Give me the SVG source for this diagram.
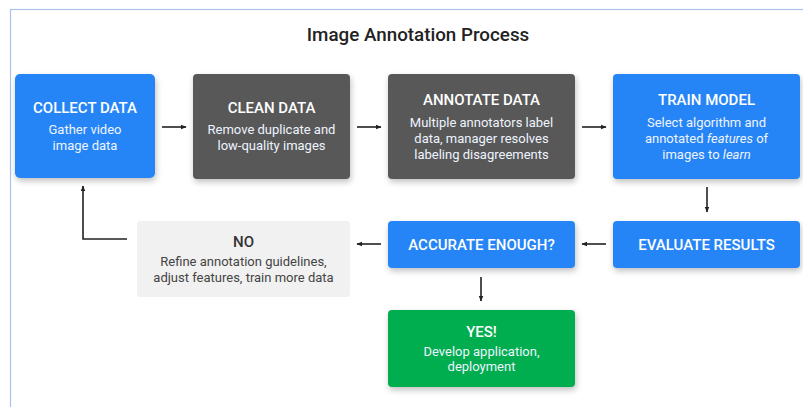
<svg xmlns="http://www.w3.org/2000/svg" width="803" height="407" viewBox="0 0 803 407">
<defs>
<filter id="sh" x="-10%" y="-10%" width="125%" height="135%">
<feGaussianBlur in="SourceAlpha" stdDeviation="3"/>
<feOffset dx="1" dy="3" result="b"/>
<feComponentTransfer><feFuncA type="linear" slope="0.25"/></feComponentTransfer>
<feMerge><feMergeNode/><feMergeNode in="SourceGraphic"/></feMerge>
</filter>
<marker id="ah" viewBox="0 0 10 10" refX="9" refY="5" markerWidth="6" markerHeight="6" orient="auto" markerUnits="userSpaceOnUse">
<path d="M0,1 L10,5 L0,9 z" fill="#222"/>
</marker>
</defs>
<style>
text{font-family:Roboto,"Liberation Sans",sans-serif;text-anchor:middle}
.t{font-size:15px;font-weight:500;fill:#fff}
.b{font-size:13px;fill:#eef4ff}
.tn{font-size:15px;font-weight:500;fill:#333}
.bn{font-size:13px;fill:#444}
.blue{fill:#2585f6}
.gray{fill:#595959}
.green{fill:#00ad4f}
.light{fill:#f1f1f1}
.c{stroke:#222;stroke-width:1.6;fill:none;marker-end:url(#ah)}
</style>
<rect x="0" y="0" width="803" height="407" fill="#fff"/>
<rect x="10.5" y="9.5" width="800" height="410" fill="none" stroke="#a9c4e8" stroke-width="1.2"/>
<text x="418" y="40.5" style="font-size:18.8px;font-weight:500;fill:#222">Image Annotation Process</text>

<g id="collect">
<rect class="blue" x="15" y="74" width="140" height="104" rx="5" filter="url(#sh)"/>
<text class="t" x="85" y="113">COLLECT DATA</text>
<text class="b" x="85" y="134">Gather video</text>
<text class="b" x="85" y="150">image data</text>
</g>
<g id="clean">
<rect class="gray" x="193" y="74" width="157" height="105" rx="4" filter="url(#sh)"/>
<text class="t" x="271.5" y="113">CLEAN DATA</text>
<text class="b" x="271.5" y="134">Remove duplicate and</text>
<text class="b" x="271.5" y="150">low-quality images</text>
</g>
<g id="annotate">
<rect class="gray" x="388" y="74" width="187" height="105" rx="4" filter="url(#sh)"/>
<text class="t" x="481.5" y="105">ANNOTATE DATA</text>
<text class="b" x="481.5" y="127">Multiple annotators label</text>
<text class="b" x="481.5" y="143">data, manager resolves</text>
<text class="b" x="481.5" y="159">labeling disagreements</text>
</g>
<g id="train">
<rect class="blue" x="613" y="74" width="187" height="105" rx="4" filter="url(#sh)"/>
<text class="t" x="706.5" y="105">TRAIN MODEL</text>
<text class="b" x="706.5" y="127">Select algorithm and</text>
<text class="b" x="706.5" y="143">annotated <tspan font-style="italic">features</tspan> of</text>
<text class="b" x="706.5" y="159">images to <tspan font-style="italic">learn</tspan></text>
</g>
<g id="evaluate">
<rect class="blue" x="613" y="221" width="187" height="47" rx="4" filter="url(#sh)"/>
<text class="t" x="706.5" y="249.5">EVALUATE RESULTS</text>
</g>
<g id="accurate">
<rect class="blue" x="388" y="221" width="187" height="47" rx="4" filter="url(#sh)"/>
<text class="t" x="481.5" y="249.5">ACCURATE ENOUGH?</text>
</g>
<g id="no">
<rect class="light" x="137" y="221" width="213" height="76" rx="3"/>
<text class="tn" x="243.5" y="247">NO</text>
<text class="bn" x="243.5" y="266">Refine annotation guidelines,</text>
<text class="bn" x="243.5" y="282">adjust features, train more data</text>
</g>
<g id="yes">
<rect class="green" x="388" y="310" width="187" height="77" rx="4" filter="url(#sh)"/>
<text class="t" x="481.5" y="337">YES!</text>
<text class="b" x="481.5" y="356">Develop application,</text>
<text class="b" x="481.5" y="371">deployment</text>
</g>

<g id="connectors">
<path class="c" d="M162,127 H186"/>
<path class="c" d="M357,127 H381"/>
<path class="c" d="M582,127 H606"/>
<path class="c" d="M707,187 V212"/>
<path class="c" d="M606,244 H582"/>
<path class="c" d="M381,244 H357"/>
<path class="c" d="M481,277 V301"/>
<path class="c" d="M127,239 H83 V186"/>
</g>
</svg>
